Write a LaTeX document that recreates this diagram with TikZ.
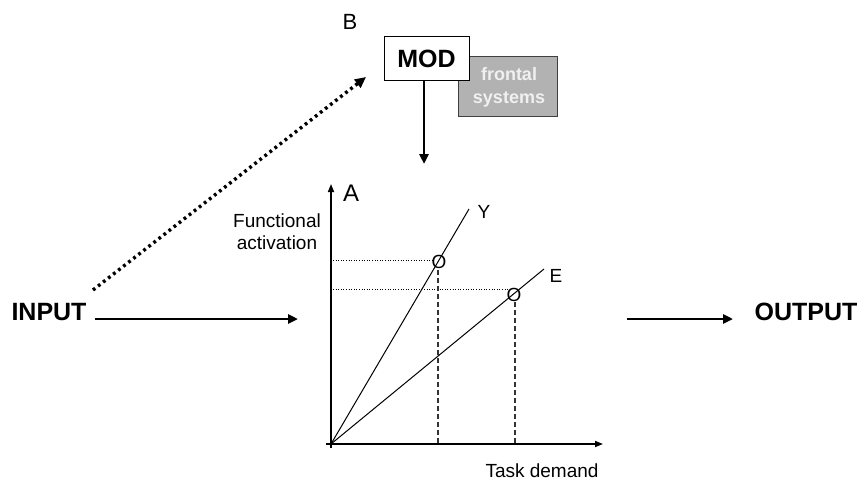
\documentclass[tikz,border=0pt]{standalone}
\usepackage{fontspec}
\setmainfont{Liberation Sans}
\usetikzlibrary{arrows.meta}
\definecolor{boxgray}{HTML}{B2B2B2}
\definecolor{boxedge}{HTML}{404040}
\begin{document}
\begin{tikzpicture}[x=1pt,y=-1pt,
  bigarrow/.style={line width=2.9pt,-{Triangle[length=10pt,width=9pt]}},
  axisline/.style={line width=1.6pt,-{Triangle[length=8pt,width=6pt]}},
  curve/.style={line width=1pt},
  guide/.style={line width=0.6pt,dotted},
  drop/.style={line width=1.4pt,dash pattern=on 5pt off 3pt,black!80},
  lbl/.style={inner sep=0pt,font=\fontsize{19}{21}\selectfont},
  big/.style={inner sep=0pt,font=\fontsize{25}{28}\selectfont\bfseries}]
\useasboundingbox (0,0) rectangle (861,484);

% labels
\node[big] (inp) at (49,312) {INPUT};
\node[big] (outp) at (806,312) {OUTPUT};
\node[lbl,font=\fontsize{22}{24}\selectfont] (B) at (350,22) {B};
\node[lbl,font=\fontsize{24}{26}\selectfont] (A) at (351,193) {A};

% boxes
\node[draw=boxedge,line width=1pt,fill=boxgray,minimum width=99pt,minimum height=60pt,
      inner sep=0pt] (fr) at (507.5,87) {};
\node[inner sep=0pt,align=center,text=white!94!black,
      font=\fontsize{18}{23}\selectfont\bfseries] (frtxt) at (509,87) {frontal\\systems};
\node[draw=black,line width=1pt,fill=white,minimum width=85pt,minimum height=44pt,
      inner sep=0pt,font=\fontsize{25}{28}\selectfont\bfseries] (mod) at (426.5,59) {MOD};

% coordinates
\coordinate (o) at (331,444);
\coordinate (ytop) at (331,184);
\coordinate (xend) at (603,444);
\coordinate (ylineend) at (469,209);
\coordinate (elineend) at (544,269);
\coordinate (inpend) at (298,319);
\coordinate (inpstart) at (95,319);
\coordinate (outstart) at (627,319);
\coordinate (outend) at (733,319);
\coordinate (modtop) at (424,81);
\coordinate (modend) at (424,164);
\coordinate (dotstart) at (93,290);
\coordinate (dotend) at (366,77);

% main arrows
\draw[bigarrow] (inpstart) -- (inpend);
\draw[bigarrow] (outstart) -- (outend);
\draw[bigarrow] (modtop) -- (modend);
\draw[line width=3.4pt,dash pattern=on 2.8pt off 3.6pt,-{Triangle[length=11pt,width=10pt]}] (dotstart) -- (dotend);

% axes
\draw[axisline] (o) ++(0,4) -- (ytop);
\draw[axisline] (o) ++(-5,0) -- (xend);

% lines
\draw[curve] (o) -- (ylineend);
\draw[curve] (o) -- (elineend);
\node[lbl] (Y) at (484,212) {Y};
\node[lbl] (E) at (556,276) {E};

% points
\node[lbl] (py) at (439,262) {O};
\node[lbl] (pe) at (514,295) {O};

% guides
\coordinate (gy0) at (333,260);
\coordinate (gy1) at (432,260);
\coordinate (ge0) at (333,289);
\coordinate (ge1) at (508,289);
\draw[guide] (gy0) -- (gy1);
\draw[guide] (ge0) -- (ge1);
\coordinate (dy0) at (438,270);
\coordinate (dy1) at (438,444);
\coordinate (de0) at (515,302);
\coordinate (de1) at (515,444);
\draw[drop] (dy0) -- (dy1);
\draw[drop] (de0) -- (de1);

% axis labels
\node[lbl,align=center,font=\fontsize{19}{22}\selectfont] (fa) at (277,232) {Functional\\activation};
\node[lbl] (td) at (542,471) {Task demand};
\end{tikzpicture}
\end{document}
